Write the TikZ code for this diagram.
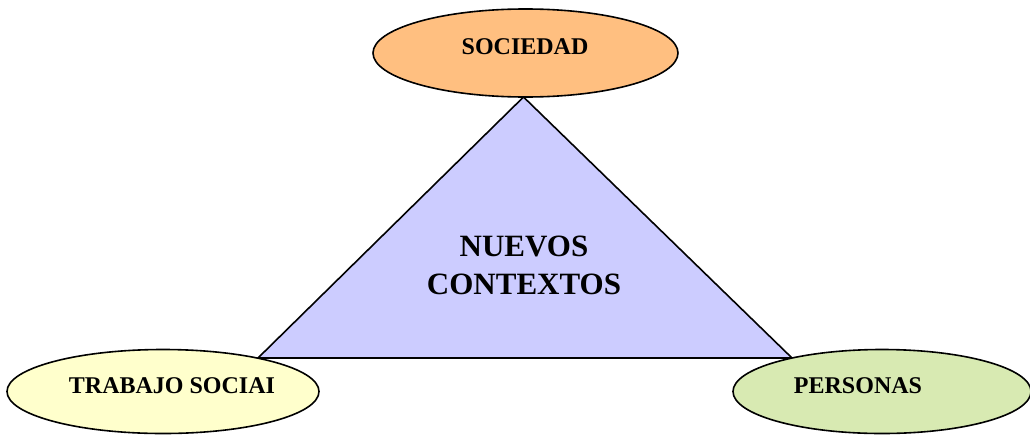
\documentclass[tikz,border=0pt]{standalone}
\usepackage{fontspec}
\setmainfont{Liberation Serif}
\usetikzlibrary{shapes.geometric}
\definecolor{orangefill}{HTML}{FFBF80}
\definecolor{violetfill}{HTML}{CCCCFF}
\definecolor{yellowfill}{HTML}{FFFFCC}
\definecolor{greenfill}{HTML}{D8EAB2}
\tikzset{
  oval/.style={ellipse, draw=black, line width=1.6pt, inner sep=0pt},
  lbl/.style={font=\bfseries\fontsize{24}{28}\selectfont, inner sep=0pt, anchor=base},
}
\begin{document}
\begin{tikzpicture}[x=1pt,y=-1pt]
\useasboundingbox (0,0) rectangle (1030,434);
\coordinate (apex) at (523.5,97);
\coordinate (bl) at (258,358);
\coordinate (br) at (792,358);
\filldraw[fill=violetfill, draw=black, line width=1.6pt, line join=miter] (apex) -- (br) -- (bl) -- cycle;
\node[oval, fill=orangefill, minimum width=305pt, minimum height=88pt] (soc) at (525.5,53) {};
\node[oval, fill=yellowfill, minimum width=312pt, minimum height=84pt] (ts) at (163,391.5) {};
\node[oval, fill=greenfill, minimum width=298pt, minimum height=84pt] (per) at (882,391.5) {};
\node[lbl] (socl) at (525,54) {SOCIEDAD};
\node[lbl] (tsl) at (172,393) {TRABAJO SOCIAI};
\node[lbl] (perl) at (858,393) {PERSONAS};
\node[font=\bfseries\fontsize{31}{38}\selectfont, align=center, inner sep=0pt] (nc) at (524,265) {NUEVOS\\CONTEXTOS};
\end{tikzpicture}
\end{document}
